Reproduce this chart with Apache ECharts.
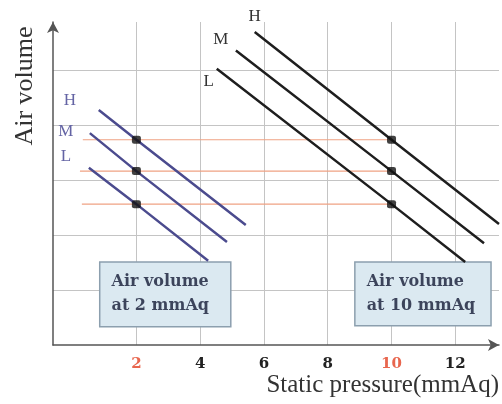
<!DOCTYPE html>
<html>
<head>
  <meta charset="utf-8">
  <title>Air volume vs static pressure</title>
  <script src="https://cdn.jsdelivr.net/npm/echarts@6/dist/echarts.min.js"></script>
  <style>
    html, body { margin: 0; padding: 0; background: #fff; }
  </style>
</head>
<body>
<div id="fanChart" style="width:502px;height:404px;"></div>
<script>
  // tick labels on the pressure axis, the red ones are the two reference pressures
  var xTicks = [2, 4, 6, 8, 10, 12];
  var redTicks = [2, 10];
  var yTicks = [1, 2, 3, 4, 5];

  // fan curves at 2 mmAq (blue) : [pressure, air volume]
  var lowH = [[0.82, 4.27], [2, 3.73], [5.43, 2.18]];
  var lowM = [[0.54, 3.85], [2, 3.16], [4.84, 1.87]];
  var lowL = [[0.51, 3.22], [2, 2.56], [4.25, 1.53]];

  // fan curves at 10 mmAq (black)
  var highH = [[5.71, 5.69], [10, 3.73], [13.37, 2.2]];
  var highM = [[5.12, 5.35], [10, 3.16], [12.9, 1.85]];
  var highL = [[4.52, 5.02], [10, 2.56], [12.31, 1.51]];

  // orange guide lines joining equal air volumes
  var guideH = [[0.32, 3.73], [10, 3.73]];
  var guideM = [[0.23, 3.16], [10, 3.16]];
  var guideL = [[0.29, 2.56], [10, 2.56]];

  // operating points
  var dots = [[2, 3.73], [2, 3.16], [2, 2.56], [10, 3.73], [10, 3.16], [10, 2.56]];

  // note boxes: [x0, y0, x1, y1]
  var boxLow = [0.85, 1.51, 4.96, 0.33];
  var boxHigh = [8.85, 1.51, 13.12, 0.35];
  // note texts: [x, y, text] (left edge, middle of the box)
  var boxTexts = [
    [1.22, 0.93, 'Air volume\nat 2 mmAq'],
    [9.22, 0.93, 'Air volume\nat 10 mmAq']
  ];

  var serif = '"Liberation Serif", "DejaVu Serif", serif';
  var boldSerif = '"DejaVu Serif", serif';

  // first point carries the H / M / L tag
  function withTag(points, tag, color, offset) {
    return points.map(function (p, i) {
      if (i !== 0) return p;
      return {
        value: p,
        label: {
          show: true,
          formatter: tag,
          position: 'inside',
          offset: offset,
          color: color,
          fontFamily: serif,
          fontSize: 17
        }
      };
    });
  }

  function fanLine(name, points, color, tag, tagColor, offset) {
    return {
      name: name,
      type: 'line',
      data: withTag(points, tag, tagColor, offset),
      showSymbol: true,
      symbolSize: 0,
      clip: false,
      silent: true,
      lineStyle: { color: color, width: 2.5 },
      itemStyle: { color: color },
      z: 3
    };
  }

  function guideLine(name, points) {
    return {
      name: name,
      type: 'line',
      data: points,
      showSymbol: false,
      silent: true,
      lineStyle: { color: '#efa283', width: 1.2 },
      z: 2
    };
  }

  function boxItem(b) {
    return [{ xAxis: b[0], yAxis: b[1] }, { xAxis: b[2], yAxis: b[3] }];
  }

  var chart = echarts.init(document.getElementById('fanChart'));

  var option = {
    animation: false,
    grid: { left: 53, right: 0, top: 22, bottom: 59 },
    xAxis: {
      type: 'value',
      min: -0.615,
      max: 13.37,
      name: 'Static pressure(mmAq)',
      nameLocation: 'end',
      nameGap: 0,
      nameTextStyle: {
        fontFamily: serif,
        fontSize: 25,
        color: '#333',
        align: 'right',
        verticalAlign: 'top',
        padding: [28, 0, 0, 0]
      },
      axisLine: {
        onZero: false,
        lineStyle: { color: '#555', width: 1.5 },
        symbol: ['none', 'arrow'],
        symbolSize: [9, 11]
      },
      axisTick: { show: false, customValues: xTicks },
      axisLabel: {
        customValues: xTicks,
        margin: 12,
        fontFamily: boldSerif,
        fontSize: 15,
        fontWeight: 'bold',
        color: '#222',
        formatter: function (v) {
          return redTicks.indexOf(Number(v)) >= 0 ? '{r|' + v + '}' : String(v);
        },
        rich: {
          r: {
            color: '#e8664e',
            fontFamily: boldSerif,
            fontSize: 15,
            fontWeight: 'bold'
          }
        }
      },
      splitLine: {
        show: true,
        lineStyle: { color: '#c4c4c4', width: 1 }
      }
    },
    yAxis: {
      type: 'value',
      min: 0,
      max: 5.87,
      axisLine: {
        show: true,
        onZero: false,
        lineStyle: { color: '#555', width: 1.5 },
        symbol: ['none', 'arrow'],
        symbolSize: [9, 11]
      },
      axisTick: { show: false, customValues: yTicks },
      axisLabel: { show: false },
      splitLine: {
        show: true,
        lineStyle: { color: '#c4c4c4', width: 1 }
      }
    },
    graphic: [{
      type: 'text',
      x: 25,
      y: 86,
      rotation: Math.PI / 2,
      style: {
        text: 'Air volume',
        font: '26px ' + serif,
        fill: '#333',
        textAlign: 'center',
        textVerticalAlign: 'middle'
      }
    }],
    series: [
      guideLine('guide H', guideH),
      guideLine('guide M', guideM),
      guideLine('guide L', guideL),
      fanLine('2mmAq H', lowH, '#4b4b8e', 'H', '#6464a4', [-29, -10]),
      fanLine('2mmAq M', lowM, '#4b4b8e', 'M', '#6464a4', [-24, -2]),
      fanLine('2mmAq L', lowL, '#4b4b8e', 'L', '#6464a4', [-23, -11]),
      fanLine('10mmAq H', highH, '#1e1e1e', 'H', '#333', [0, -15]),
      fanLine('10mmAq M', highM, '#1e1e1e', 'M', '#333', [-15, -11]),
      fanLine('10mmAq L', highL, '#1e1e1e', 'L', '#333', [-8, 13]),
      {
        name: 'points',
        type: 'scatter',
        data: dots,
        symbol: 'roundRect',
        symbolSize: [9, 8],
        itemStyle: { color: '#111' },
        silent: true,
        z: 5,
        markArea: {
          silent: true,
          itemStyle: {
            color: '#dbe9f1',
            borderColor: '#8c9fae',
            borderWidth: 1.5
          },
          label: { show: false },
          data: [boxItem(boxLow), boxItem(boxHigh)]
        }
      },
      {
        name: 'notes',
        type: 'scatter',
        data: boxTexts,
        symbolSize: 0,
        silent: true,
        z: 6,
        label: {
          show: true,
          position: 'inside',
          align: 'left',
          verticalAlign: 'middle',
          formatter: function (p) { return p.value[2]; },
          fontFamily: boldSerif,
          fontSize: 16,
          fontWeight: 'bold',
          lineHeight: 24,
          color: '#141a36'
        }
      }
    ]
  };

  chart.setOption(option);
</script>
</body>
</html>
